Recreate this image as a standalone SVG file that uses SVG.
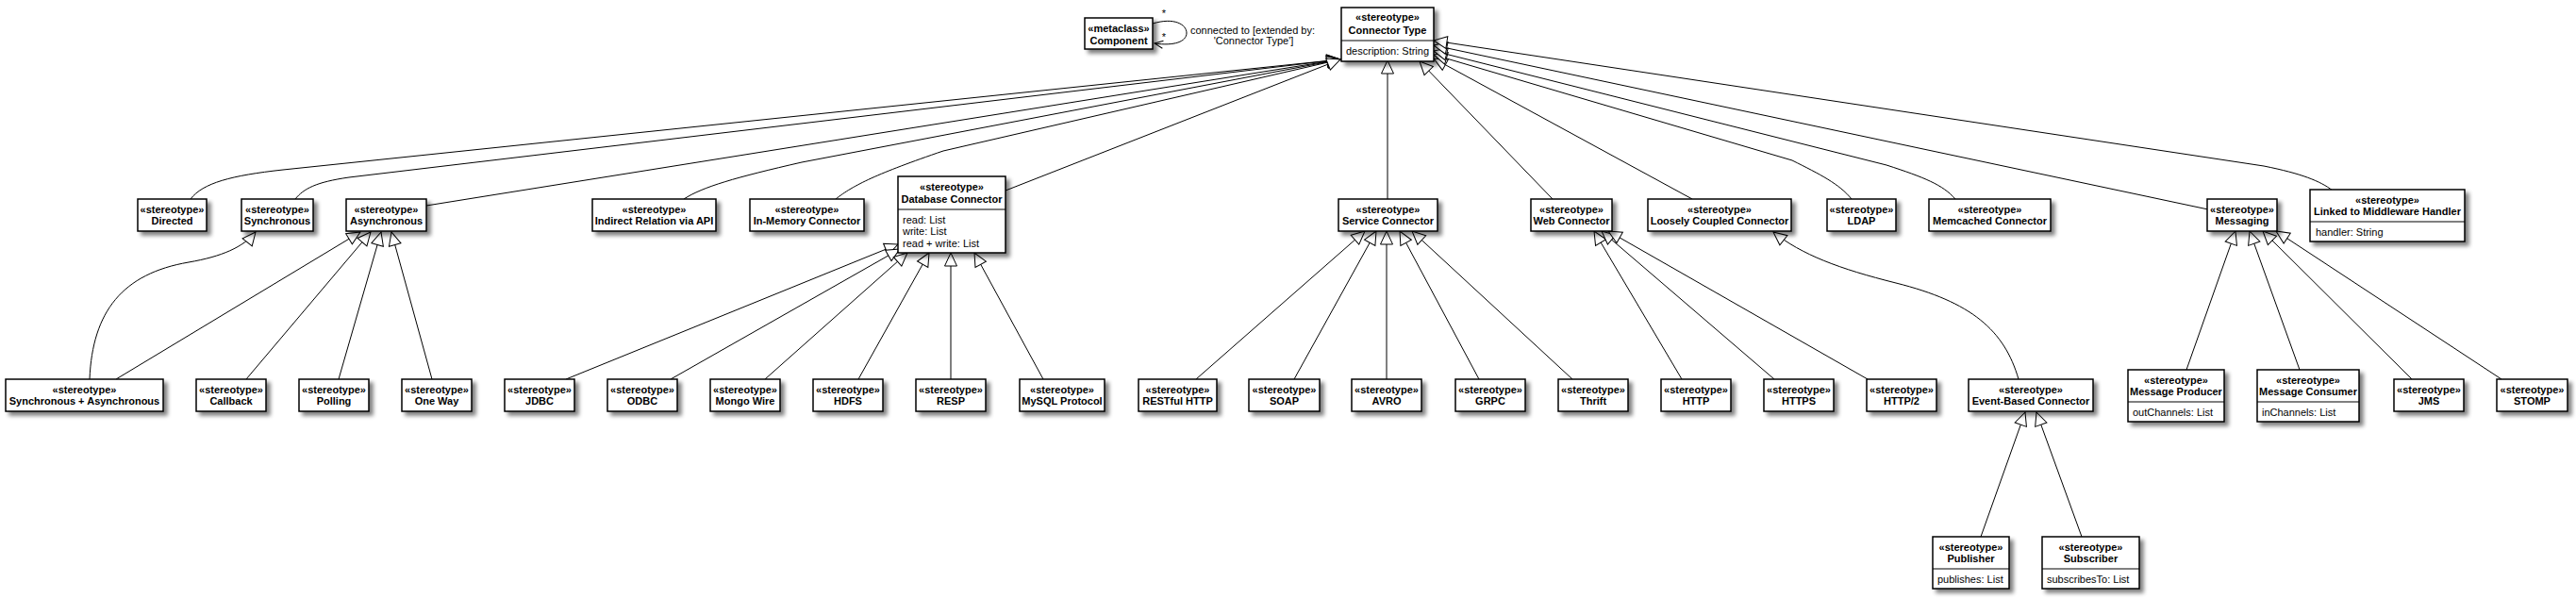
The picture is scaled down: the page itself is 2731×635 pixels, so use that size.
<svg xmlns="http://www.w3.org/2000/svg" width="2731" height="635" viewBox="0 0 2731 635">
<defs>
<filter id="sh" x="-10%" y="-10%" width="130%" height="150%">
<feGaussianBlur in="SourceAlpha" stdDeviation="2.2"/>
<feOffset dx="4" dy="4" result="b"/>
<feComponentTransfer><feFuncA type="linear" slope="0.5"/></feComponentTransfer>
<feMerge><feMergeNode/><feMergeNode in="SourceGraphic"/></feMerge>
</filter>
<marker id="tri" viewBox="-16 -9 18 18" markerWidth="18" markerHeight="18" refX="0" refY="0" orient="auto" markerUnits="userSpaceOnUse">
<path d="M0,0 L-14,-6.5 L-14,6.5 Z" fill="#fff" stroke="#000" stroke-width="1"/>
</marker>
<marker id="open" viewBox="-12 -7 14 14" markerWidth="14" markerHeight="14" refX="0" refY="0" orient="auto" markerUnits="userSpaceOnUse">
<path d="M-9,-4 L0,0 L-9,4" fill="none" stroke="#000" stroke-width="1"/>
</marker>
</defs>
<style>
.box{fill:#fff;stroke:#000;stroke-width:1.5;filter:url(#sh)}
.div{stroke:#000;stroke-width:1}
text{font-family:"Liberation Sans",Arial,sans-serif;font-size:11px;fill:#000}
.st,.nm{font-weight:bold;text-anchor:middle}
.at{text-anchor:start}
.lb{text-anchor:middle}
.e{fill:none;stroke:#000;stroke-width:1;marker-end:url(#tri)}
.loop{fill:none;stroke:#000;stroke-width:1;marker-end:url(#open)}
</style>
<rect width="2731" height="635" fill="#fff"/>
<g id="connectors">
<path class="loop" d="M1222,25 C1245,18 1258,26 1258,35 C1258,44 1245,49 1224,46"/>
<path class="e" d="M202,211 C215,194 245,186 300,180 L1421,63"/>
<path class="e" d="M313,211 C322,200 335,193 370,188 L1421,63"/>
<path class="e" d="M452,218 L1421,63"/>
<path class="e" d="M725,211 C745,198 780,188 850,172 L1421,63"/>
<path class="e" d="M886,211 C905,196 930,184 1000,160 L1421,63"/>
<path class="e" d="M1066,202 L1421,63"/>
<path class="e" d="M1471,211 L1471,64"/>
<path class="e" d="M1646,211 L1505,65"/>
<path class="e" d="M1794,211 L1520,62"/>
<path class="e" d="M1963,211 C1950,195 1930,185 1900,170 L1520,58"/>
<path class="e" d="M2073,211 C2060,196 2040,188 2000,175 L1520,54"/>
<path class="e" d="M2341,222 L1520,48"/>
<path class="e" d="M2473,202 C2460,192 2440,184 2400,176 L1520,43"/>
<path class="e" d="M95,402 C98,330 130,290 200,278 C235,272 258,262 271,246"/>
<path class="e" d="M123,402 L382,246"/>
<path class="e" d="M261,402 L393,246"/>
<path class="e" d="M359,402 L404,246"/>
<path class="e" d="M458,402 L415,246"/>
<path class="e" d="M600,402 L952,259"/>
<path class="e" d="M711,402 L954,264"/>
<path class="e" d="M811,402 L962,268"/>
<path class="e" d="M910,402 L985,268"/>
<path class="e" d="M1008,402 L1008,268"/>
<path class="e" d="M1106,402 L1033,268"/>
<path class="e" d="M1268,402 L1447,245"/>
<path class="e" d="M1372,402 L1459,245"/>
<path class="e" d="M1470,402 L1470,245"/>
<path class="e" d="M1568,402 L1484,245"/>
<path class="e" d="M1667,402 L1497,245"/>
<path class="e" d="M1783,402 L1690,245"/>
<path class="e" d="M1881,402 L1698,245"/>
<path class="e" d="M1980,402 L1705,245"/>
<path class="e" d="M2140,402 C2125,350 2090,320 2010,300 C1950,285 1910,270 1880,246"/>
<path class="e" d="M2318,392 L2370,245"/>
<path class="e" d="M2438,392 L2385,245"/>
<path class="e" d="M2557,402 L2399,245"/>
<path class="e" d="M2652,402 L2413,245"/>
<path class="e" d="M2100,569 L2147,437"/>
<path class="e" d="M2207,569 L2159,437"/>
<text x="1234" y="18" class="lb">*</text>
<text x="1234" y="43" class="lb">*</text>
<text x="1328" y="36" class="lb">connected to [extended by:</text>
<text x="1329" y="47" class="lb">'Connector Type']</text>
</g>
<g id="n-component"><rect class="box" x="1150" y="19" width="72" height="33"/><text class="st" x="1186" y="34">«metaclass»</text><text class="nm" x="1186" y="47">Component</text></g>
<g id="n-connectortype"><rect class="box" x="1422" y="8" width="98" height="57"/><line class="div" x1="1422" y1="43" x2="1520" y2="43"/><text class="st" x="1471" y="22">«stereotype»</text><text class="nm" x="1471" y="36">Connector Type</text><text class="at" x="1427" y="58">description: String</text></g>
<g id="n-directed"><rect class="box" x="146" y="211" width="73" height="34"/><text class="st" x="182.5" y="226">«stereotype»</text><text class="nm" x="182.5" y="238">Directed</text></g>
<g id="n-synchronous"><rect class="box" x="256" y="211" width="76" height="34"/><text class="st" x="294" y="226">«stereotype»</text><text class="nm" x="294" y="238">Synchronous</text></g>
<g id="n-asynchronous"><rect class="box" x="367" y="211" width="85" height="34"/><text class="st" x="409.5" y="226">«stereotype»</text><text class="nm" x="409.5" y="238">Asynchronous</text></g>
<g id="n-indirect"><rect class="box" x="628" y="211" width="131" height="34"/><text class="st" x="693.5" y="226">«stereotype»</text><text class="nm" x="693.5" y="238">Indirect Relation via API</text></g>
<g id="n-inmemory"><rect class="box" x="795" y="211" width="121" height="34"/><text class="st" x="855.5" y="226">«stereotype»</text><text class="nm" x="855.5" y="238">In-Memory Connector</text></g>
<g id="n-database"><rect class="box" x="952" y="187" width="114" height="81"/><line class="div" x1="952" y1="222" x2="1066" y2="222"/><text class="st" x="1009" y="202">«stereotype»</text><text class="nm" x="1009" y="215">Database Connector</text><text class="at" x="957" y="237">read: List</text><text class="at" x="957" y="249">write: List</text><text class="at" x="957" y="262">read + write: List</text></g>
<g id="n-service"><rect class="box" x="1419" y="211" width="105" height="34"/><text class="st" x="1471.5" y="226">«stereotype»</text><text class="nm" x="1471.5" y="238">Service Connector</text></g>
<g id="n-web"><rect class="box" x="1623" y="211" width="86" height="34"/><text class="st" x="1666" y="226">«stereotype»</text><text class="nm" x="1666" y="238">Web Connector</text></g>
<g id="n-loosely"><rect class="box" x="1747" y="211" width="152" height="34"/><text class="st" x="1823" y="226">«stereotype»</text><text class="nm" x="1823" y="238">Loosely Coupled Connector</text></g>
<g id="n-ldap"><rect class="box" x="1937" y="211" width="73" height="34"/><text class="st" x="1973.5" y="226">«stereotype»</text><text class="nm" x="1973.5" y="238">LDAP</text></g>
<g id="n-memcached"><rect class="box" x="2045" y="211" width="129" height="34"/><text class="st" x="2109.5" y="226">«stereotype»</text><text class="nm" x="2109.5" y="238">Memcached Connector</text></g>
<g id="n-messaging"><rect class="box" x="2340" y="211" width="74" height="34"/><text class="st" x="2377" y="226">«stereotype»</text><text class="nm" x="2377" y="238">Messaging</text></g>
<g id="n-linked"><rect class="box" x="2449" y="201" width="164" height="55"/><line class="div" x1="2449" y1="235" x2="2613" y2="235"/><text class="st" x="2531" y="216">«stereotype»</text><text class="nm" x="2531" y="228">Linked to Middleware Handler</text><text class="at" x="2455" y="250">handler: String</text></g>
<g id="n-syncasync"><rect class="box" x="6" y="402" width="167" height="34"/><text class="st" x="89.5" y="417">«stereotype»</text><text class="nm" x="89.5" y="429">Synchronous + Asynchronous</text></g>
<g id="n-callback"><rect class="box" x="208" y="402" width="74" height="34"/><text class="st" x="245" y="417">«stereotype»</text><text class="nm" x="245" y="429">Callback</text></g>
<g id="n-polling"><rect class="box" x="317" y="402" width="74" height="34"/><text class="st" x="354" y="417">«stereotype»</text><text class="nm" x="354" y="429">Polling</text></g>
<g id="n-oneway"><rect class="box" x="426" y="402" width="74" height="34"/><text class="st" x="463" y="417">«stereotype»</text><text class="nm" x="463" y="429">One Way</text></g>
<g id="n-jdbc"><rect class="box" x="535" y="402" width="74" height="34"/><text class="st" x="572" y="417">«stereotype»</text><text class="nm" x="572" y="429">JDBC</text></g>
<g id="n-odbc"><rect class="box" x="644" y="402" width="74" height="34"/><text class="st" x="681" y="417">«stereotype»</text><text class="nm" x="681" y="429">ODBC</text></g>
<g id="n-mongo"><rect class="box" x="753" y="402" width="74" height="34"/><text class="st" x="790" y="417">«stereotype»</text><text class="nm" x="790" y="429">Mongo Wire</text></g>
<g id="n-hdfs"><rect class="box" x="862" y="402" width="74" height="34"/><text class="st" x="899" y="417">«stereotype»</text><text class="nm" x="899" y="429">HDFS</text></g>
<g id="n-resp"><rect class="box" x="971" y="402" width="74" height="34"/><text class="st" x="1008" y="417">«stereotype»</text><text class="nm" x="1008" y="429">RESP</text></g>
<g id="n-mysql"><rect class="box" x="1081" y="402" width="90" height="34"/><text class="st" x="1126" y="417">«stereotype»</text><text class="nm" x="1126" y="429">MySQL Protocol</text></g>
<g id="n-restful"><rect class="box" x="1207" y="402" width="83" height="34"/><text class="st" x="1248.5" y="417">«stereotype»</text><text class="nm" x="1248.5" y="429">RESTful HTTP</text></g>
<g id="n-soap"><rect class="box" x="1324" y="402" width="75" height="34"/><text class="st" x="1361.5" y="417">«stereotype»</text><text class="nm" x="1361.5" y="429">SOAP</text></g>
<g id="n-avro"><rect class="box" x="1433" y="402" width="74" height="34"/><text class="st" x="1470" y="417">«stereotype»</text><text class="nm" x="1470" y="429">AVRO</text></g>
<g id="n-grpc"><rect class="box" x="1543" y="402" width="74" height="34"/><text class="st" x="1580" y="417">«stereotype»</text><text class="nm" x="1580" y="429">GRPC</text></g>
<g id="n-thrift"><rect class="box" x="1652" y="402" width="74" height="34"/><text class="st" x="1689" y="417">«stereotype»</text><text class="nm" x="1689" y="429">Thrift</text></g>
<g id="n-http"><rect class="box" x="1761" y="402" width="74" height="34"/><text class="st" x="1798" y="417">«stereotype»</text><text class="nm" x="1798" y="429">HTTP</text></g>
<g id="n-https"><rect class="box" x="1870" y="402" width="74" height="34"/><text class="st" x="1907" y="417">«stereotype»</text><text class="nm" x="1907" y="429">HTTPS</text></g>
<g id="n-http2"><rect class="box" x="1979" y="402" width="74" height="34"/><text class="st" x="2016" y="417">«stereotype»</text><text class="nm" x="2016" y="429">HTTP/2</text></g>
<g id="n-eventbased"><rect class="box" x="2087" y="402" width="132" height="34"/><text class="st" x="2153" y="417">«stereotype»</text><text class="nm" x="2153" y="429">Event-Based Connector</text></g>
<g id="n-producer"><rect class="box" x="2256" y="392" width="102" height="55"/><line class="div" x1="2256" y1="426" x2="2358" y2="426"/><text class="st" x="2307" y="407">«stereotype»</text><text class="nm" x="2307" y="419">Message Producer</text><text class="at" x="2261" y="441">outChannels: List</text></g>
<g id="n-consumer"><rect class="box" x="2393" y="392" width="108" height="55"/><line class="div" x1="2393" y1="426" x2="2501" y2="426"/><text class="st" x="2447" y="407">«stereotype»</text><text class="nm" x="2447" y="419">Message Consumer</text><text class="at" x="2398" y="441">inChannels: List</text></g>
<g id="n-jms"><rect class="box" x="2538" y="402" width="74" height="34"/><text class="st" x="2575" y="417">«stereotype»</text><text class="nm" x="2575" y="429">JMS</text></g>
<g id="n-stomp"><rect class="box" x="2647" y="402" width="75" height="34"/><text class="st" x="2684.5" y="417">«stereotype»</text><text class="nm" x="2684.5" y="429">STOMP</text></g>
<g id="n-publisher"><rect class="box" x="2049" y="569" width="81" height="55"/><line class="div" x1="2049" y1="603" x2="2130" y2="603"/><text class="st" x="2089.5" y="584">«stereotype»</text><text class="nm" x="2089.5" y="596">Publisher</text><text class="at" x="2054" y="618">publishes: List</text></g>
<g id="n-subscriber"><rect class="box" x="2165" y="569" width="103" height="55"/><line class="div" x1="2165" y1="603" x2="2268" y2="603"/><text class="st" x="2216.5" y="584">«stereotype»</text><text class="nm" x="2216.5" y="596">Subscriber</text><text class="at" x="2170" y="618">subscribesTo: List</text></g>
</svg>
